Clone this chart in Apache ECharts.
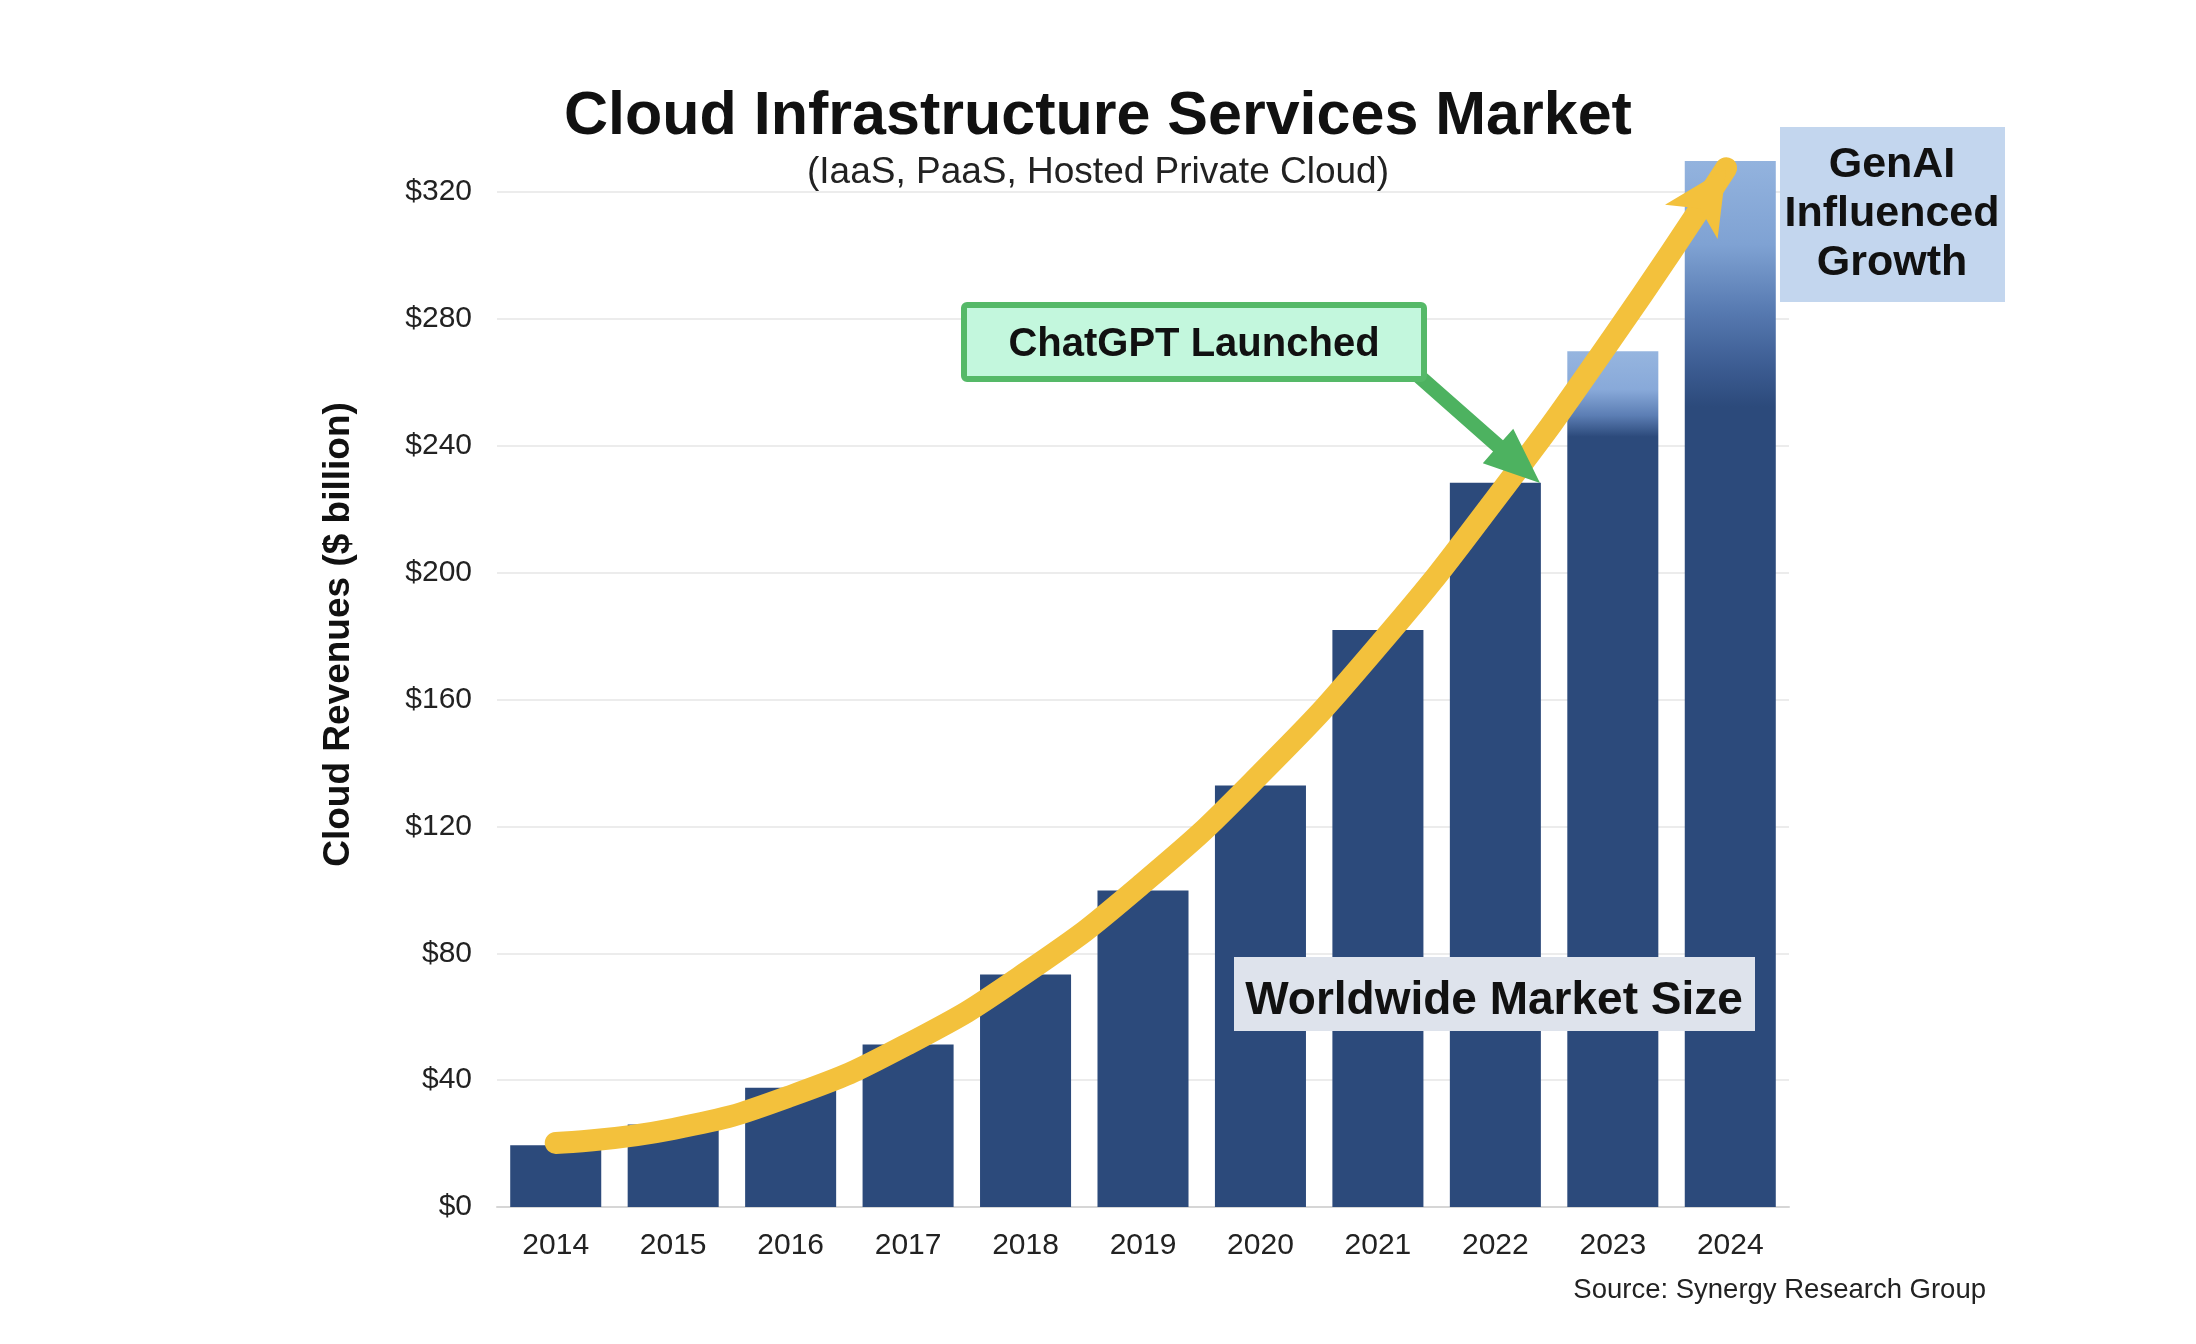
<!DOCTYPE html>
<html>
<head>
<meta charset="utf-8">
<script src="https://cdn.jsdelivr.net/npm/echarts@6/dist/echarts.min.js"></script>
<style>
html,body{margin:0;padding:0;background:#ffffff;}
#chart{width:2196px;height:1344px;}
</style>
</head>
<body>
<div id="chart"></div>
<script>
// ---- data ----
const years = ['2014','2015','2016','2017','2018','2019','2020','2021','2022','2023','2024'];
const revenues = [19.5, 26.0, 37.6, 51.2, 73.3, 99.8, 132.9, 181.9, 228.3, 269.8, 329.8];
// trend arrow path (category index, value)
const trendX = [0, 1, 2, 3, 4, 5, 6, 7, 8, 9, 9.965];
const trendY = [20.2, 24.6, 35.0, 51.4, 73.8, 102.1, 136.5, 176.8, 223.2, 274.2, 327.5];
const yTickValues = [0, 40, 80, 120, 160, 200, 240, 280, 320];
const yTickLabels = ['$0', '$40', '$80', '$120', '$160', '$200', '$240', '$280', '$320'];

const FONT = "'Liberation Sans', Arial, Helvetica, sans-serif";
const NAVY = '#2C4A7B';
const YELLOW = '#F3C13C';

const gradients = {
  '2023': {type:'linear', x:0, y:0, x2:0, y2:1, colorStops:[
    {offset:0, color:'#96B5DF'}, {offset:0.045, color:'#88A9D9'},
    {offset:0.075, color:'#5C7EB4'}, {offset:0.1, color:NAVY}, {offset:1, color:NAVY}]},
  '2024': {type:'linear', x:0, y:0, x2:0, y2:1, colorStops:[
    {offset:0, color:'#93B3DE'}, {offset:0.08, color:'#7FA2D3'},
    {offset:0.145, color:'#5679B0'}, {offset:0.195, color:'#3D5D93'},
    {offset:0.235, color:NAVY}, {offset:1, color:NAVY}]}
};

const barData = revenues.map((v, i) => {
  const g = gradients[years[i]];
  return g ? {value: v, itemStyle: {color: g}} : v;
});
const trendData = trendX.map((x, i) => [x, trendY[i]]);
const last = trendData[trendData.length - 1];

function arrowPoly(sx, sy, tx, ty, shaft, headLen, headW) {
  const dx = tx - sx, dy = ty - sy, L = Math.hypot(dx, dy);
  const ux = dx / L, uy = dy / L, px = -uy, py = ux;
  const bx = tx - ux * headLen, by = ty - uy * headLen;
  return [
    [sx + px * shaft / 2, sy + py * shaft / 2],
    [bx + px * shaft / 2, by + py * shaft / 2],
    [bx + px * headW / 2, by + py * headW / 2],
    [tx, ty],
    [bx - px * headW / 2, by - py * headW / 2],
    [bx - px * shaft / 2, by - py * shaft / 2],
    [sx - px * shaft / 2, sy - py * shaft / 2]
  ];
}

const chart = echarts.init(document.getElementById('chart'), null, {renderer: 'canvas'});

const option = {
  backgroundColor: '#ffffff',
  animation: false,
  title: [
    {
      text: 'Cloud Infrastructure Services Market',
      left: 'center', top: 82,
      textStyle: {fontFamily: FONT, fontSize: 61, fontWeight: 'bold', color: '#111111', lineHeight: 61}
    },
    {
      text: '(IaaS, PaaS, Hosted Private Cloud)',
      left: 'center', top: 149,
      textStyle: {fontFamily: FONT, fontSize: 37, fontWeight: 'normal', color: '#222222', lineHeight: 37}
    }
  ],
  grid: {left: 497, right: 407, top: 192, bottom: 137, containLabel: false},
  xAxis: [
    {
      type: 'category', data: years, gridIndex: 0,
      axisLine: {show: true, lineStyle: {color: '#D6D6D6', width: 2}},
      axisTick: {show: false},
      axisLabel: {fontFamily: FONT, fontSize: 30, color: '#222222', margin: 24}
    },
    {
      type: 'value', gridIndex: 0, min: -0.5, max: 10.5, show: false
    }
  ],
  yAxis: {
    type: 'value', min: 0, max: 320, interval: 40,
    name: 'Cloud Revenues ($ billion)', nameLocation: 'middle', nameGap: 140,
    nameTextStyle: {fontFamily: FONT, fontSize: 37, fontWeight: 'bold', color: '#111111',
                    padding: [0, 0, 0, 130]},
    axisLine: {show: false}, axisTick: {show: false},
    axisLabel: {
      fontFamily: FONT, fontSize: 30, color: '#222222', margin: 25,
      formatter: v => { const k = yTickValues.indexOf(v); return k >= 0 ? yTickLabels[k] : ''; }
    },
    splitLine: {show: true, lineStyle: {color: '#ECECEC', width: 2}}
  },
  series: [
    {
      name: 'Worldwide Market Size', type: 'bar', data: barData,
      xAxisIndex: 0, yAxisIndex: 0,
      barCategoryGap: '22.5%', clip: false,
      itemStyle: {color: NAVY}, z: 2
    },
    {
      name: 'Trend', type: 'line', data: trendData,
      xAxisIndex: 1, yAxisIndex: 0,
      smooth: 0.5, symbol: 'none', clip: false,
      lineStyle: {color: YELLOW, width: 22, cap: 'round', join: 'round'},
      z: 4
    },
    {
      name: 'Trend head', type: 'scatter', data: [last],
      xAxisIndex: 1, yAxisIndex: 0, clip: false,
      symbol: 'arrow', symbolSize: [47, 64], symbolRotate: -33,
      itemStyle: {color: YELLOW, opacity: 1}, z: 5
    }
  ],
  graphic: [
    // green pointer arrow (under the box)
    {
      type: 'polygon', z: 20,
      shape: {points: arrowPoly(1412, 370, 1540, 483, 15, 56, 46)},
      style: {fill: '#4DB260'}
    },
    {
      type: 'rect', z: 21,
      shape: {x: 964, y: 305, width: 460, height: 74, r: 3},
      style: {fill: '#C3F7DD', stroke: '#55B968', lineWidth: 6}
    },
    {
      type: 'text', z: 22, x: 1194, y: 345,
      style: {text: 'ChatGPT Launched', fontFamily: FONT, fontSize: 40, fontWeight: 'bold',
               fill: '#111111', align: 'center', verticalAlign: 'middle'}
    },
    // GenAI box
    {
      type: 'rect', z: 21,
      shape: {x: 1780, y: 127, width: 225, height: 175},
      style: {fill: '#C3D6EE'}
    },
    {
      type: 'text', z: 22, x: 1892, y: 214,
      style: {text: 'GenAI\nInfluenced\nGrowth', fontFamily: FONT, fontSize: 43, fontWeight: 'bold',
               lineHeight: 49, fill: '#111111', align: 'center', verticalAlign: 'middle'}
    },
    // Worldwide market size label
    {
      type: 'rect', z: 21,
      shape: {x: 1234, y: 957, width: 521, height: 74},
      style: {fill: '#DEE3EC'}
    },
    {
      type: 'text', z: 22, x: 1494, y: 1001,
      style: {text: 'Worldwide Market Size', fontFamily: FONT, fontSize: 46, fontWeight: 'bold',
               fill: '#111111', align: 'center', verticalAlign: 'middle'}
    },
    // source
    {
      type: 'text', z: 22, x: 1986, y: 1290,
      style: {text: 'Source: Synergy Research Group', fontFamily: FONT, fontSize: 27.5,
               fill: '#222222', align: 'right', verticalAlign: 'middle'}
    }
  ]
};

chart.setOption(option);
</script>
</body>
</html>
